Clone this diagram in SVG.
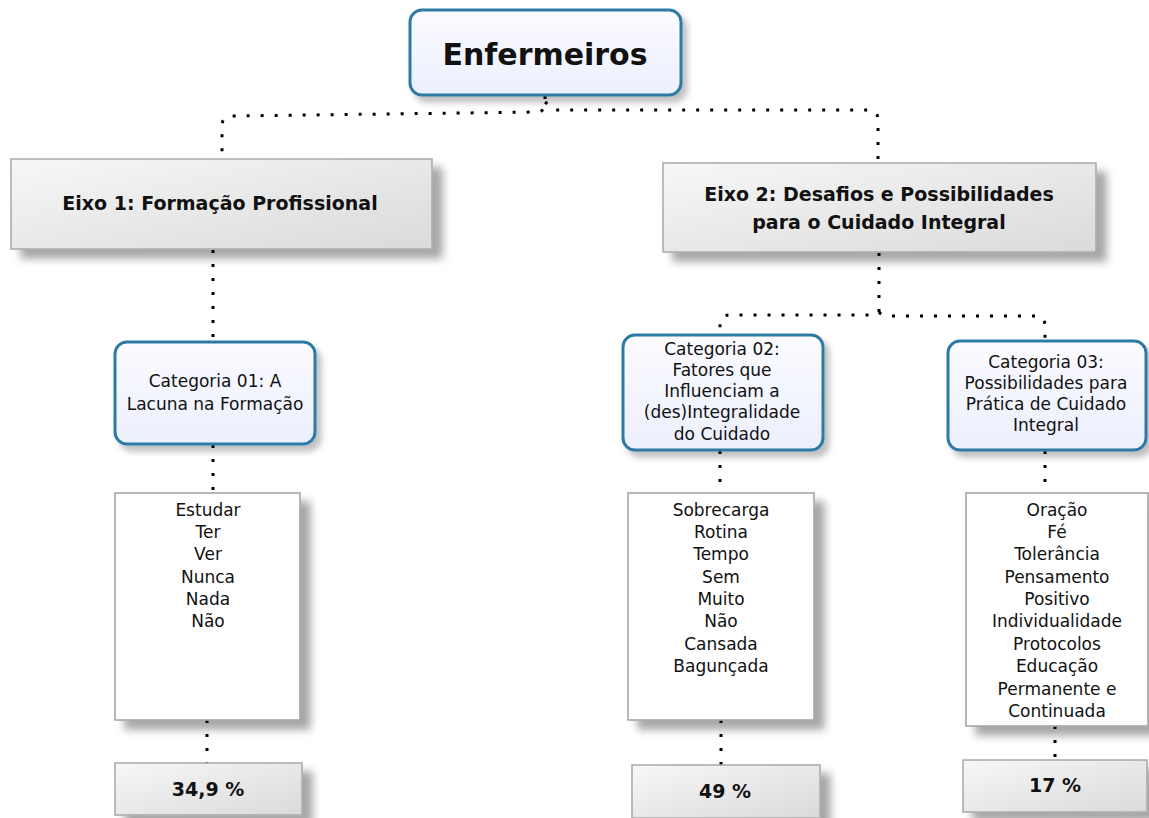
<svg xmlns="http://www.w3.org/2000/svg" width="1149" height="818" viewBox="0 0 1149 818">
<defs>
<linearGradient id="gGray" x1="0" y1="0" x2="1" y2="1">
<stop offset="0" stop-color="#f7f7f7"/>
<stop offset="1" stop-color="#dadada"/>
</linearGradient>
<linearGradient id="gBlue" x1="0" y1="0" x2="0" y2="1">
<stop offset="0" stop-color="#fbfbff"/>
<stop offset="1" stop-color="#eceffd"/>
</linearGradient>
<filter id="shBig" x="-10%" y="-20%" width="130%" height="160%">
<feGaussianBlur in="SourceAlpha" stdDeviation="4"/>
<feOffset dx="10" dy="9" result="b"/>
<feComponentTransfer><feFuncA type="linear" slope="0.35"/></feComponentTransfer>
<feMerge><feMergeNode/><feMergeNode in="SourceGraphic"/></feMerge>
</filter>
<filter id="shSmall" x="-10%" y="-10%" width="130%" height="140%">
<feGaussianBlur in="SourceAlpha" stdDeviation="3"/>
<feOffset dx="5" dy="6" result="b"/>
<feComponentTransfer><feFuncA type="linear" slope="0.25"/></feComponentTransfer>
<feMerge><feMergeNode/><feMergeNode in="SourceGraphic"/></feMerge>
</filter>
</defs>
<style>
.conn{fill:none;stroke:#000;stroke-width:3;stroke-dasharray:3 11;}
.gray{fill:url(#gGray);stroke:#a8a8a8;stroke-width:1.5;}
.cat{fill:url(#gBlue);stroke:#2e7aa6;stroke-width:3;}
.list{fill:#fff;stroke:#a0a0a0;stroke-width:1.5;}
.t{font-family:"DejaVu Sans","Open Sans",sans-serif;fill:#111;text-anchor:middle;}
.b{font-weight:bold;}
.n{font-size:17px;}
</style>
<rect width="1149" height="818" fill="#fff"/>
<g id="connectors">
<path class="conn" d="M545 96 V104 Q545 110 539 112 L232 116 Q222 116 222 126 V158"/>
<path class="conn" d="M545 102 L555 110 H868 Q878 110 878 120 V162"/>
<path class="conn" d="M213 250 V342"/>
<path class="conn" d="M879 253 V310 Q879 315 872 315 H730 Q720 315 720 325 V335"/>
<path class="conn" d="M879 312 Q882 316 890 316 H1035 Q1045 316 1045 326 V341"/>
<path class="conn" d="M213 445 V493"/>
<path class="conn" d="M720 451 V493"/>
<path class="conn" d="M1045 451 V493"/>
<path class="conn" d="M207 720 V763"/>
<path class="conn" d="M721 720 V765"/>
<path class="conn" d="M1055 726 V760"/>
</g>
<g id="enfermeiros">
<rect x="410" y="10" width="271" height="85" rx="12" class="cat" filter="url(#shSmall)"/>
<text x="545" y="65" class="t b" font-size="30">Enfermeiros</text>
</g>
<g id="eixo1">
<rect x="11" y="159" width="421" height="90" class="gray" filter="url(#shBig)"/>
<text x="220" y="210" class="t b" font-size="19">Eixo 1: Formação Profissional</text>
</g>
<g id="eixo2">
<rect x="663" y="163" width="433" height="89" class="gray" filter="url(#shBig)"/>
<text x="879" y="201" class="t b" font-size="19">Eixo 2: Desafios e Possibilidades</text>
<text x="879" y="229" class="t b" font-size="19">para o Cuidado Integral</text>
</g>
<g id="cat01">
<rect x="115" y="342" width="200" height="102" rx="12" class="cat" filter="url(#shSmall)"/>
<text x="215" y="387" class="t n">Categoria 01: A</text>
<text x="215" y="410" class="t n">Lacuna na Formação</text>
</g>
<g id="cat02">
<rect x="623" y="335" width="200" height="115" rx="12" class="cat" filter="url(#shSmall)"/>
<text x="722" y="355" class="t n">Categoria 02:</text>
<text x="722" y="376" class="t n">Fatores que</text>
<text x="722" y="397" class="t n">Influenciam a</text>
<text x="722" y="418" class="t n">(des)Integralidade</text>
<text x="722" y="440" class="t n">do Cuidado</text>
</g>
<g id="cat03">
<rect x="948" y="341" width="198" height="109" rx="12" class="cat" filter="url(#shSmall)"/>
<text x="1046" y="368" class="t n">Categoria 03:</text>
<text x="1046" y="389" class="t n">Possibilidades para</text>
<text x="1046" y="410" class="t n">Prática de Cuidado</text>
<text x="1046" y="431" class="t n">Integral</text>
</g>
<g id="list1">
<rect x="115" y="493" width="185" height="227" class="list" filter="url(#shBig)"/>
<text class="t n"><tspan x="208" y="516">Estudar</tspan><tspan x="208" y="538">Ter</tspan><tspan x="208" y="560">Ver</tspan><tspan x="208" y="583">Nunca</tspan><tspan x="208" y="605">Nada</tspan><tspan x="208" y="627">Não</tspan></text>
</g>
<g id="list2">
<rect x="628" y="493" width="186" height="227" class="list" filter="url(#shBig)"/>
<text class="t n"><tspan x="721" y="516">Sobrecarga</tspan><tspan x="721" y="538">Rotina</tspan><tspan x="721" y="560">Tempo</tspan><tspan x="721" y="583">Sem</tspan><tspan x="721" y="605">Muito</tspan><tspan x="721" y="627">Não</tspan><tspan x="721" y="650">Cansada</tspan><tspan x="721" y="672">Bagunçada</tspan></text>
</g>
<g id="list3">
<rect x="966" y="493" width="182" height="233" class="list" filter="url(#shBig)"/>
<text class="t n"><tspan x="1057" y="516">Oração</tspan><tspan x="1057" y="538">Fé</tspan><tspan x="1057" y="560">Tolerância</tspan><tspan x="1057" y="583">Pensamento</tspan><tspan x="1057" y="605">Positivo</tspan><tspan x="1057" y="627">Individualidade</tspan><tspan x="1057" y="650">Protocolos</tspan><tspan x="1057" y="672">Educação</tspan><tspan x="1057" y="695">Permanente e</tspan><tspan x="1057" y="717">Continuada</tspan></text>
</g>
<g id="pct1">
<rect x="115" y="763" width="187" height="52" class="gray" filter="url(#shBig)"/>
<text x="208" y="796" class="t b" font-size="19">34,9 %</text>
</g>
<g id="pct2">
<rect x="632" y="765" width="188" height="53" class="gray" filter="url(#shBig)"/>
<text x="725" y="798" class="t b" font-size="19">49 %</text>
</g>
<g id="pct3">
<rect x="963" y="760" width="184" height="52" class="gray" filter="url(#shBig)"/>
<text x="1055" y="792" class="t b" font-size="19">17 %</text>
</g>
</svg>
